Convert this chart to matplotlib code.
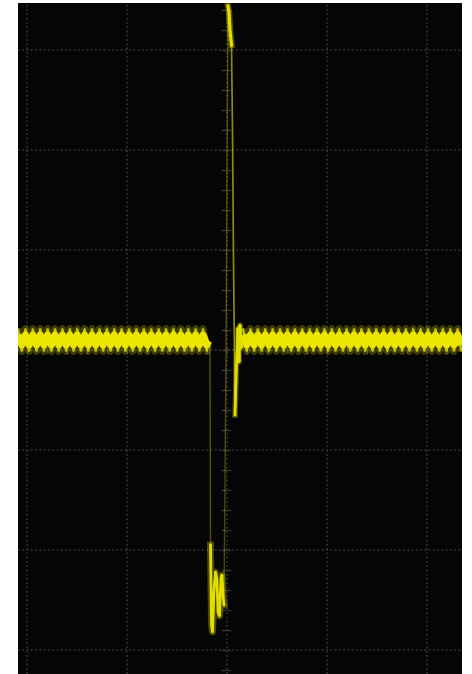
import numpy as np
import matplotlib
matplotlib.use('Agg')
import matplotlib.pyplot as plt

# screen in divisions, centre of graticule at (0, 0)
X_RANGE = (-2.09, 2.35)
Y_RANGE = (-3.24, 3.47)
X_GRID = [-2, -1, 0, 1, 2]
Y_GRID = [-3, -2, -1, 0, 1, 2, 3]

TRACE = '#ebe600'
GRID = '#363636'

# switching ripple on the baseline: one period, in div
RIPPLE_PERIOD = 0.074
RIPPLE_CYCLE = [0.215, 0.12, -0.015, 0.08]
LEFT_SPAN = (-2.09, -0.17)
RIGHT_SPAN = (0.16, 2.35)

# transient: (time, volts) in div
drop_t = [-0.17, -0.168, -0.165]
drop_v = [0.06, -0.75, -1.95]

ring_t = [-0.165, -0.155, -0.145, -0.13, -0.115, -0.10, -0.09, -0.075, -0.06, -0.05, -0.04, -0.03]
ring_v = [-1.95, -2.75, -2.82, -2.40, -2.22, -2.30, -2.62, -2.66, -2.28, -2.25, -2.45, -2.55]

rise_t = [-0.03, -0.01, 0.01]
rise_v = [-2.55, 0.0, 3.44]

top_t = [0.01, 0.02, 0.03, 0.045]
top_v = [3.44, 3.38, 3.20, 3.05]

fall_t = [0.045, 0.055, 0.065, 0.075, 0.08]
fall_v = [3.05, 2.20, 0.90, -0.10, -0.65]

settle_t = [0.08, 0.095, 0.11, 0.12, 0.13, 0.14, 0.16]
settle_v = [-0.65, -0.15, 0.22, -0.12, 0.25, 0.02, 0.12]


def baseline(span):
    n = int((span[1] - span[0]) / RIPPLE_PERIOD) + 1
    vals = np.tile(RIPPLE_CYCLE, n)
    t = span[0] + np.arange(len(vals)) * RIPPLE_PERIOD / len(RIPPLE_CYCLE)
    keep = t <= span[1]
    return t[keep], vals[keep]


fig = plt.figure(figsize=(4.72, 6.74), dpi=100, facecolor='white')
ax = fig.add_axes([18 / 472, 0, 444 / 472, 671 / 674])
ax.set_facecolor('#050505')
ax.set_xlim(*X_RANGE)
ax.set_ylim(*Y_RANGE)
ax.set_xticks([])
ax.set_yticks([])
for sp in ax.spines.values():
    sp.set_visible(False)

# graticule
for gx in X_GRID:
    ax.axvline(gx, color=GRID, lw=1.1, dashes=(1.2, 1.6), zorder=1)
for gy in Y_GRID:
    ax.axhline(gy, color=GRID, lw=1.1, dashes=(1.2, 1.6), zorder=1)

# minor ticks on the centre lines
for v in np.arange(-3.2, 3.5, 0.2):
    ax.plot([-0.05, -0.01], [v, v], color=GRID, lw=1.0, zorder=1)
    ax.plot([0.01, 0.03], [v, v], color=GRID, lw=1.0, zorder=1)
for t in np.arange(-2.0, 2.4, 0.2):
    ax.plot([t, t], [-0.03, 0.03], color=GRID, lw=1.0, zorder=1)

# ripple baseline: glow, pointed envelope, then a dense core
for span in (LEFT_SPAN, RIGHT_SPAN):
    t, v = baseline(span)
    mid = np.mean(RIPPLE_CYCLE)
    core = mid + 0.45 * (v - mid)
    ax.plot(t, v, color=TRACE, lw=5, alpha=0.25, solid_joinstyle='round',
            solid_capstyle='butt', zorder=2)
    ax.plot(t, v, color=TRACE, lw=1.6, alpha=0.8, solid_joinstyle='miter',
            solid_capstyle='butt', zorder=3)
    ax.plot(t, core, color=TRACE, lw=5.0, alpha=1.0, solid_joinstyle='round',
            solid_capstyle='butt', zorder=4)

# transient event
ax.plot(drop_t, drop_v, color=TRACE, lw=1.0, alpha=0.35, zorder=3)
ax.plot(ring_t, ring_v, color=TRACE, lw=5, alpha=0.3, zorder=2)
ax.plot(ring_t, ring_v, color=TRACE, lw=2.0, alpha=0.95, zorder=3)
ax.plot(rise_t, rise_v, color=TRACE, lw=1.0, alpha=0.3, zorder=3)
ax.plot(top_t, top_v, color=TRACE, lw=4.5, alpha=0.35, zorder=2)
ax.plot(top_t, top_v, color=TRACE, lw=2.2, alpha=0.95, zorder=3)
ax.plot(fall_t, fall_v, color=TRACE, lw=1.2, alpha=0.6, zorder=3)
ax.plot(settle_t, settle_v, color=TRACE, lw=4, alpha=0.3, zorder=2)
ax.plot(settle_t, settle_v, color=TRACE, lw=2.0, alpha=0.95, zorder=3)

fig.savefig('out.png', dpi=100, facecolor=fig.get_facecolor())
